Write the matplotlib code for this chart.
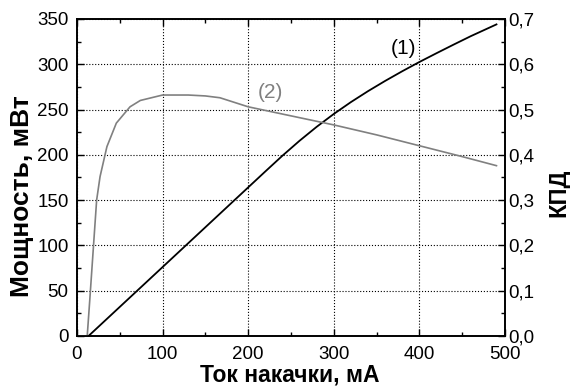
import numpy as np
import matplotlib as mpl
mpl.use('Agg')
import matplotlib.pyplot as plt
from matplotlib.ticker import MultipleLocator, FuncFormatter

plt.rcParams['font.family'] = ['Liberation Sans', 'DejaVu Sans']

# power, mW (left axis)
cur_p = [13.6, 100, 200, 220, 240, 260, 280, 300, 320, 340, 360, 380, 400, 420, 440, 460, 490]
power = [0, 76, 164, 181.6, 199, 215.5, 230.9, 245.1, 258.2, 270.3, 281.6, 292.3, 302.5,
         312.2, 321.7, 331, 344]

# efficiency (right axis)
cur_e = [0, 12, 15, 19, 23, 27, 35, 46, 62, 74, 100, 130, 150, 167, 200, 250, 300, 350, 400, 450, 490]
eff = [0, 0, 0.08, 0.19, 0.30, 0.352, 0.418, 0.47, 0.506, 0.52, 0.532, 0.532, 0.530, 0.526,
       0.506, 0.486, 0.466, 0.444, 0.420, 0.396, 0.376]

fig = plt.figure(figsize=(5.7, 3.87), dpi=100)
ax = fig.add_axes([0.135, 0.132, 0.751, 0.819])
ax2 = ax.twinx()

ax.plot(cur_p, power, color='k', lw=1.3)
ax2.plot(cur_e, eff, color='#808080', lw=1.2)

ax.set_xlim(0, 500)
ax.set_ylim(0, 350)
ax2.set_ylim(0, 0.7)

ax.xaxis.set_major_locator(MultipleLocator(100))
ax.xaxis.set_minor_locator(MultipleLocator(50))
ax.yaxis.set_major_locator(MultipleLocator(50))
ax.yaxis.set_minor_locator(MultipleLocator(25))
ax2.yaxis.set_major_locator(MultipleLocator(0.1))
ax2.yaxis.set_minor_locator(MultipleLocator(0.05))
ax2.yaxis.set_major_formatter(FuncFormatter(lambda v, p: ('%.1f' % v).replace('.', ',')))

ax.grid(True, which='major', ls=':', color='k', lw=0.8)
ax.tick_params(direction='in', which='both', top=True, labelsize=13.5, width=1)
ax.tick_params(axis='y', pad=6)
ax.tick_params(axis='x', pad=7)
ax.tick_params(which='major', length=5)
ax.tick_params(which='minor', length=3)
ax2.tick_params(direction='in', which='both', labelsize=13.5, width=1, pad=2)
ax2.tick_params(which='major', length=5)
ax2.tick_params(which='minor', length=3)
for a in (ax, ax2):
    for s in a.spines.values():
        s.set_linewidth(1.2)

ax.set_xlabel('Ток накачки, мА', fontsize=16.5, fontweight='bold')
ax.xaxis.set_label_coords(0.498, -0.088)
ax.set_ylabel('Мощность, мВт', fontsize=19, fontweight='bold')
ax.yaxis.set_label_coords(-0.1, 0.44)
ax2.set_ylabel('КПД', fontsize=17, fontweight='bold')
ax2.yaxis.set_label_coords(1.098, 0.45)

ax.text(381, 317, '(1)', fontsize=15, color='k', ha='center', va='center')
ax.text(226, 269, '(2)', fontsize=15, color='#808080', ha='center', va='center')

fig.savefig('out.png', dpi=100)
